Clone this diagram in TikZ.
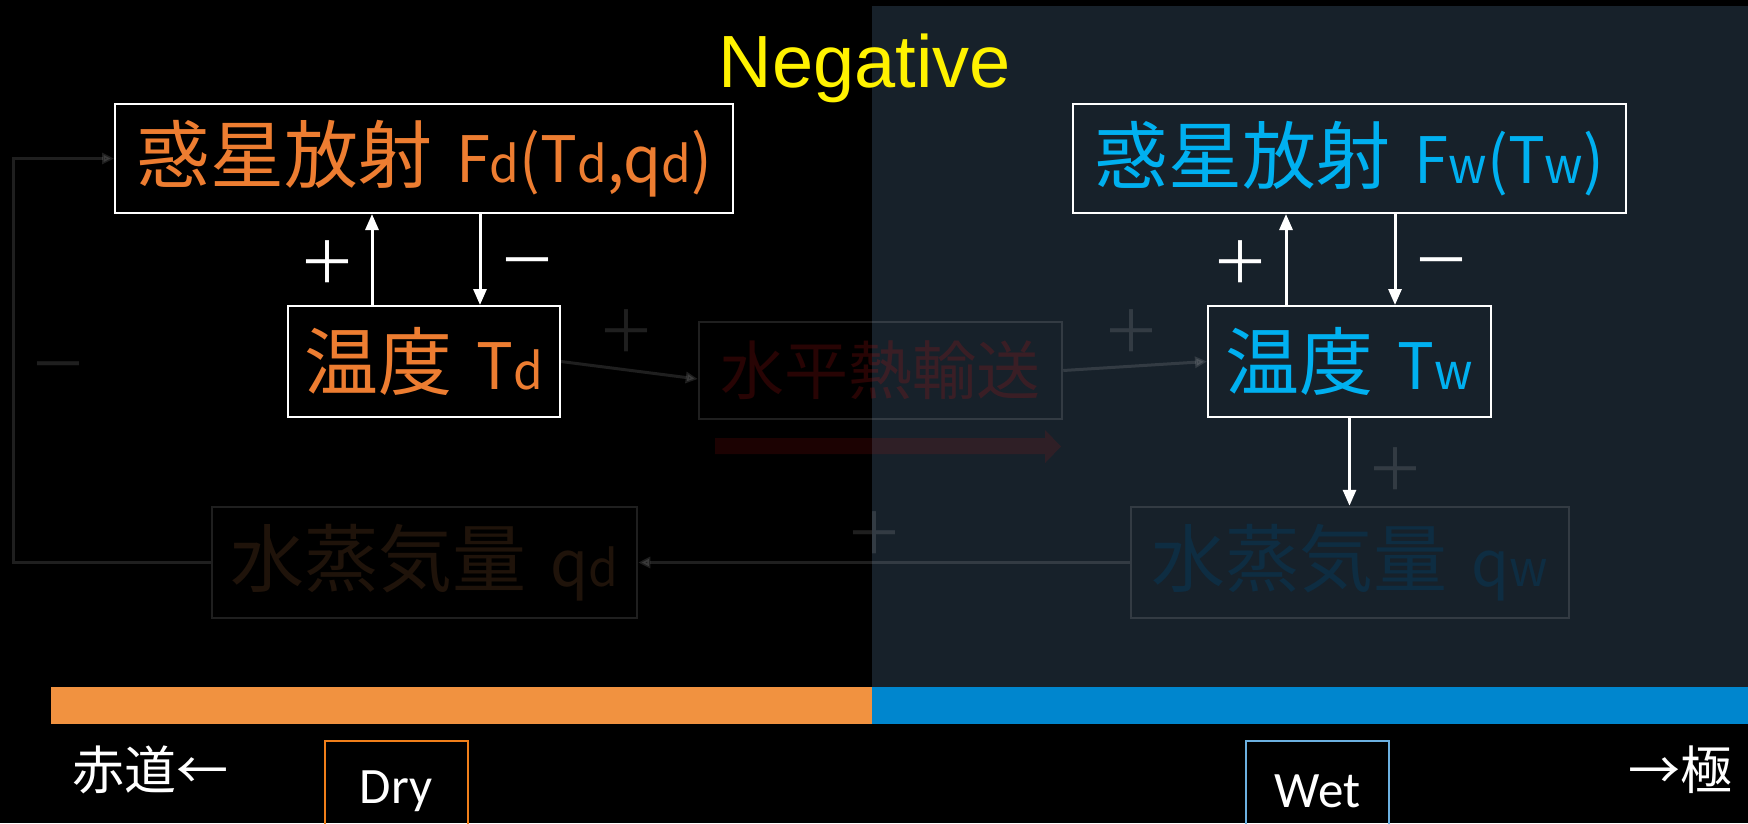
\documentclass[tikz,border=0pt]{standalone}
\usepackage{fontspec}
\setmainfont{Liberation Sans}
\newfontfamily\jp{Noto Sans CJK JP}
\newfontfamily\jpl[FakeStretch=0.96]{Noto Sans CJK JP}
\newfontfamily\carl{Carlito}
\usetikzlibrary{arrows.meta}
\definecolor{orng}{HTML}{ED7D31}
\definecolor{cyanb}{HTML}{00B0F0}
\definecolor{panel}{HTML}{17212A}
\definecolor{barO}{HTML}{F19240}
\definecolor{barB}{HTML}{0086CE}
\definecolor{qdc}{HTML}{1F130A}
\definecolor{qwc}{HTML}{0E2D42}
\definecolor{redt}{RGB}{200,20,20}
\definecolor{dryc}{HTML}{F07F1A}
\definecolor{wetc}{HTML}{6CB0E0}
\newcommand\BigJ[1]{{\jp\fontsize{74}{80}\selectfont #1}}
\newcommand\MidJ[1]{{\jp\fontsize{64}{70}\selectfont #1}}
\newcommand\LatJ[1]{{\jpl\fontsize{64}{70}\selectfont #1}}
\newcommand\SubJ[1]{{\jpl\fontsize{50}{60}\selectfont #1}}
\tikzset{
  mainbox/.style={draw=white, line width=2pt, inner sep=0pt},
  dimbox/.style={draw=white, draw opacity=0.12, line width=2.5pt, inner sep=0pt},
  warrow/.style={draw=white, line width=3pt, -{Triangle[length=16pt,width=13pt]}},
  darrow/.style={draw=white, opacity=0.12, line width=3pt, -{Triangle[length=12pt,width=11pt]}},
  wsign/.style={text=white, inner sep=0pt, font=\jp\fontsize{58}{60}\selectfont},
  dsign/.style={text=white, text opacity=0.12, inner sep=0pt, font=\jp\fontsize{58}{60}\selectfont},
  botlab/.style={text=white, inner sep=0pt, font=\jp\fontsize{52}{56}\selectfont},
  tagbox/.style={line width=2pt, inner sep=0pt, minimum width=143pt, minimum height=101pt, text=white, font=\carl\fontsize{51}{56}\selectfont}
}
\begin{document}
\begin{tikzpicture}[x=1pt,y=-1pt]
\useasboundingbox (0,0) rectangle (1748,823);
\fill[black] (0,0) rectangle (1748,823);
\fill[panel] (872,6) rectangle (1748,687);
% colour bar
\fill[barO] (51,687) rectangle (872,724);
\fill[barB] (872,687) rectangle (1748,724);
% title
\node[anchor=base, text=yellow, inner sep=0pt, font=\fontsize{74}{80}\selectfont] (title) at (865,87) {Negative};
% main boxes
\node[mainbox, minimum width=618pt, minimum height=109pt, text=orng] (Fd) at (424,158.5)
  {\BigJ{惑星放射}\hspace{24pt}\LatJ{F\SubJ{d}(T\SubJ{d},q\SubJ{d})}};
\node[mainbox, minimum width=272pt, minimum height=111pt, text=orng] (Td) at (424,361.5)
  {\BigJ{温度}\hspace{24pt}\LatJ{T\SubJ{d}}};
\node[mainbox, minimum width=553pt, minimum height=109pt, text=cyanb] (Fw) at (1349.5,158.5)
  {\BigJ{惑星放射}\hspace{24pt}\LatJ{F\SubJ{w}(T\SubJ{w})}};
\node[mainbox, minimum width=283pt, minimum height=111pt, text=cyanb] (Tw) at (1349.5,361.5)
  {\BigJ{温度}\hspace{24pt}\LatJ{T\SubJ{w}}};
% dim boxes
\node[dimbox, minimum width=363pt, minimum height=97pt, text=redt, text opacity=0.2] (tr) at (880.5,370.5)
  {\MidJ{水平熱輸送}};
\node[dimbox, minimum width=425pt, minimum height=111pt, text=qdc] (qd) at (424.5,562.5)
  {\BigJ{水蒸気量}\hspace{24pt}\LatJ{q\SubJ{d}}};
\node[dimbox, minimum width=438pt, minimum height=111pt, text=qwc] (qw) at (1350,562.5)
  {\BigJ{水蒸気量}\hspace{24pt}\LatJ{q\SubJ{w}}};
% thick transport arrow
\fill[redt, opacity=0.14] (715,438) -- (1045,438) -- (1045,430) -- (1061,446.5) -- (1045,463) -- (1045,454) -- (715,454) -- cycle;
% white arrows
\draw[warrow] ([xshift=-52pt]Td.north) -- ([xshift=-52pt]Fd.south);
\draw[warrow] ([xshift=56pt]Fd.south) -- ([xshift=56pt]Td.north);
\draw[warrow] ([xshift=-63.5pt]Tw.north) -- ([xshift=-63.5pt]Fw.south);
\draw[warrow] ([xshift=45.5pt]Fw.south) -- ([xshift=45.5pt]Tw.north);
\draw[warrow] (Tw.south) -- (Tw.south |- qw.north);
% dim connectors
\draw[darrow] (Td.east) -- ([yshift=-8.5pt]tr.west);
\draw[darrow] (tr.east) -- (Tw.west);
\draw[darrow] (qw.west) -- (qd.east);
\coordinate (fb) at (13,0);
\draw[darrow] (qd.west) -- (qd.west -| fb) -- (Fd.west -| fb) -- (Fd.west);
% signs
\node[wsign] (p1) at (327,262) {＋};
\node[wsign] (m1) at (527,270) {－};
\node[wsign] (p2) at (1240,262) {＋};
\node[wsign] (m2) at (1441,270) {－};
\node[dsign] (p3) at (626,331) {＋};
\node[dsign] (p4) at (1131,331) {＋};
\node[dsign] (p5) at (1395,469) {＋};
\node[dsign] (p6) at (874,533) {＋};
\node[dsign] (m3) at (58,374) {－};
% bottom labels
\node[botlab] (eq) at (150,770) {赤道←};
\node[botlab] (pole) at (1680,770) {→極};
\node[tagbox, draw=dryc] (dry) at (396,791.5) {Dry};
\node[tagbox, draw=wetc] (wet) at (1317.5,791.5) {Wet};
\end{tikzpicture}
\end{document}
